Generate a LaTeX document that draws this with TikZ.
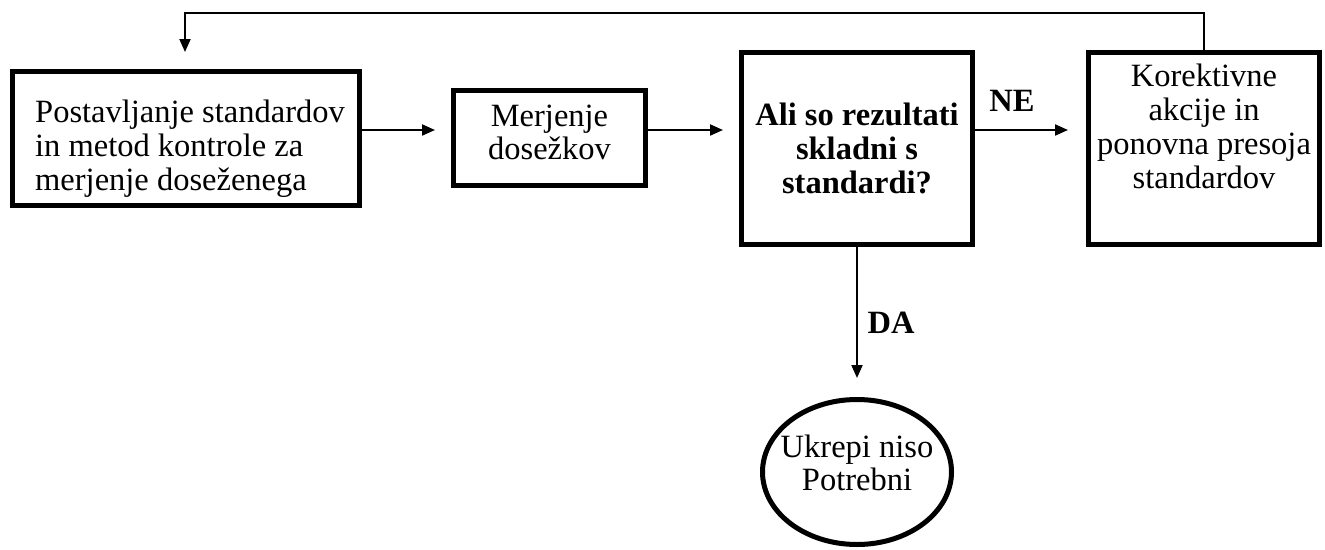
\documentclass[tikz,border=0pt]{standalone}
\usepackage{fontspec}
\setmainfont{Liberation Serif}
\usetikzlibrary{arrows.meta,shapes.geometric,calc}
\begin{document}
\begin{tikzpicture}[x=1pt,y=-1pt,
  box/.style={draw,line width=5pt,rectangle,inner sep=0pt,outer sep=0pt},
  oval/.style={draw,line width=5pt,ellipse,inner sep=0pt,outer sep=0pt},
  txt/.style={inner sep=0pt,font=\fontsize{32.5}{34}\selectfont,align=center},
  btxt/.style={inner sep=0pt,font=\fontsize{32.5}{34}\selectfont\bfseries,align=center},
  conn/.style={line width=2pt,-{Triangle[length=13pt,width=11pt]}},
]
\useasboundingbox (0,0) rectangle (1325,549);

% process boxes
\node[box,minimum width=347pt,minimum height=134pt] (b1) at (186,138.5) {};
\node[txt,align=left,anchor=west] (t1) at (35,149)
  {Postavljanje standardov\\in metod kontrole za\\merjenje doseženega};

\node[box,minimum width=192pt,minimum height=95pt] (b2) at (549.5,138) {};
\node[txt,font=\fontsize{32.5}{33}\selectfont] (t2) at (549.5,132) {Merjenje\\dosežkov};

\node[box,minimum width=231pt,minimum height=192pt] (b3) at (857,148.5) {};
\node[btxt] (t3) at (857,148) {Ali so rezultati\\skladni s\\standardi?};

\node[box,minimum width=231pt,minimum height=192pt] (b4) at (1204,148.5) {};
\node[txt] (t4) at (1204,126) {Korektivne\\akcije in\\ponovna presoja\\standardov};

\node[oval,minimum width=189pt,minimum height=145pt] (e1) at (857,472) {};
\node[txt,font=\fontsize{32.5}{33}\selectfont] (t5) at (857,463) {Ukrepi niso\\Potrebni};

% connectors
\coordinate (row) at (0,130);
\draw[conn,shorten >=18.5pt] (b1.east|-row) -- (b2.west|-row);
\draw[conn,shorten >=18.5pt] (b2.east|-row) -- (b3.west|-row);
\draw[conn,shorten >=20.5pt] (b3.east|-row) -- (b4.west|-row);
\node[btxt] (ne) at (1012,101) {NE};

\draw[conn,shorten >=21.5pt] (b3.south) -- (e1.north);
\node[btxt] (da) at (891,323) {DA};

% feedback loop back to the first step
\coordinate (fb) at (185,13);
\draw[conn,shorten >=19.5pt] (b4.north) -- (b4.north|-fb) -- (fb) -- (fb|-b1.north);
\end{tikzpicture}
\end{document}
